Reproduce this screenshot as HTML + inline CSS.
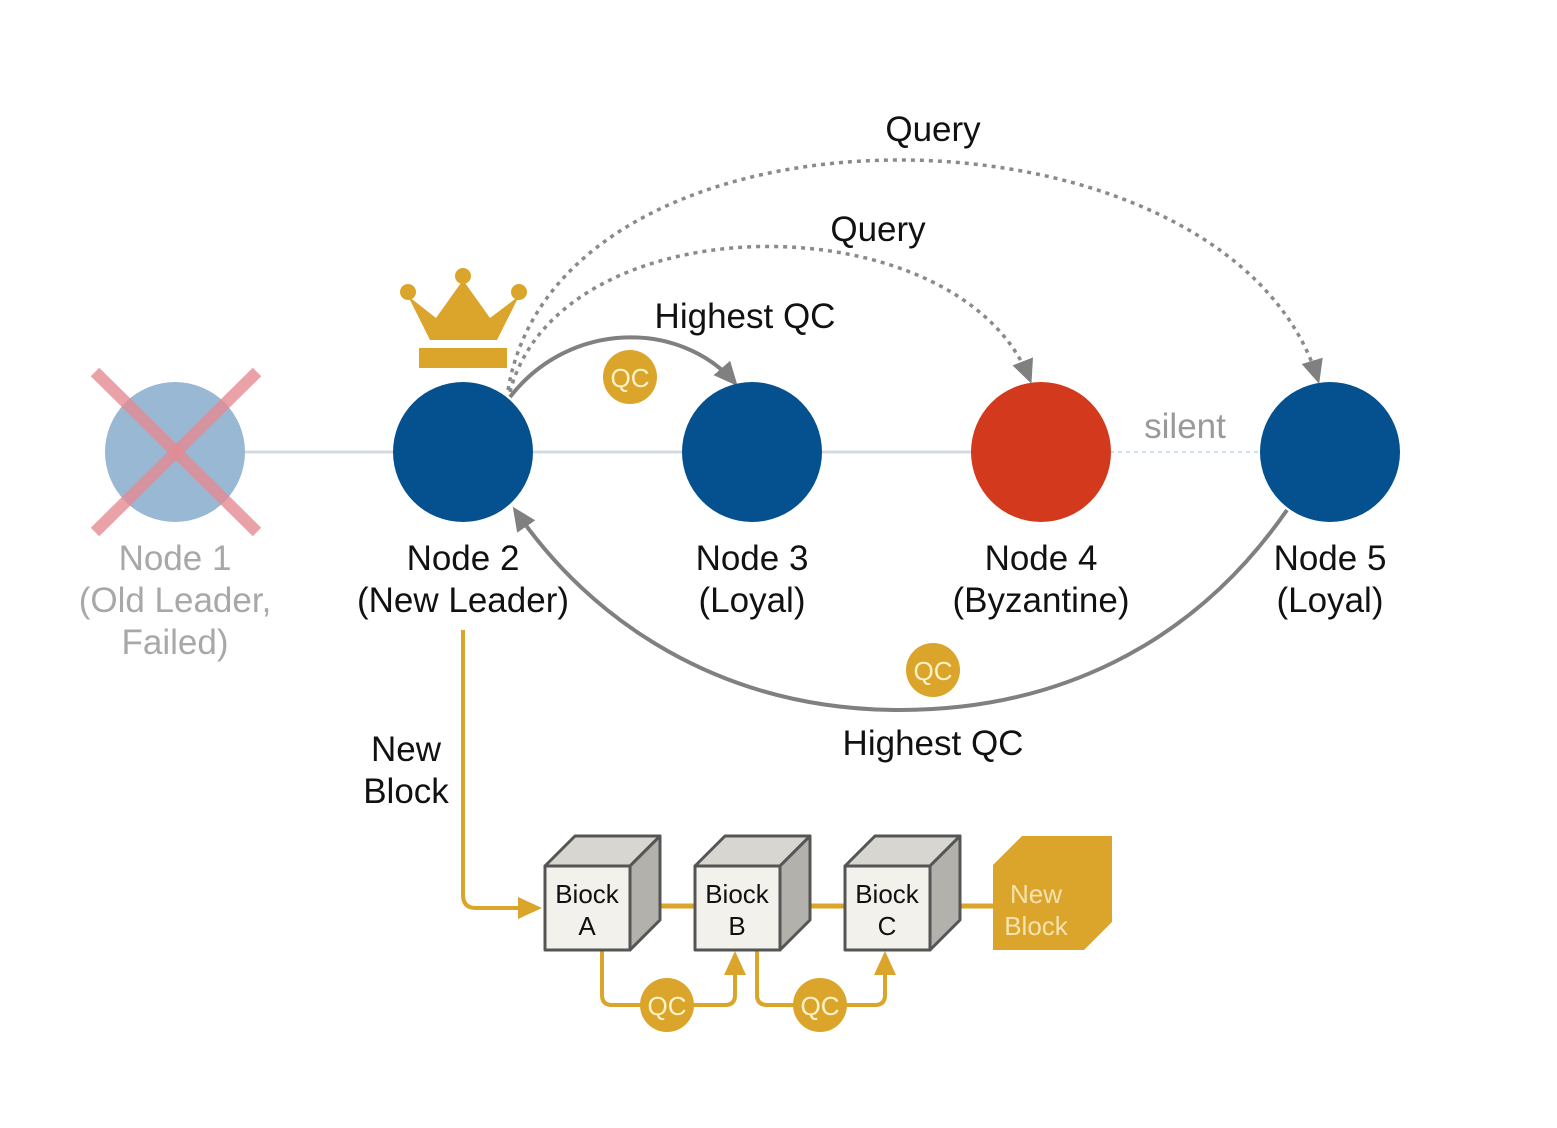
<!DOCTYPE html>
<html><head><meta charset="utf-8"><style>
body{margin:0;background:#fff;}
svg{display:block;font-family:"Liberation Sans",sans-serif;}
</style></head><body>
<svg width="1557" height="1128" viewBox="0 0 1557 1128" xmlns="http://www.w3.org/2000/svg">
<defs>
<marker id="agb" markerWidth="26" markerHeight="26" refX="20" refY="13" orient="auto" markerUnits="userSpaceOnUse" viewBox="0 0 26 26"><path d="M0,2 L24,13 L0,24 z" fill="#808080"/></marker>
<marker id="ao" markerWidth="26" markerHeight="26" refX="20" refY="13" orient="auto" markerUnits="userSpaceOnUse" viewBox="0 0 26 26"><path d="M0,2 L24,13 L0,24 z" fill="#dba42a"/></marker>
</defs>
<line x1="240" y1="452" x2="1110" y2="452" stroke="#d5dbe0" stroke-width="3"/>
<line x1="1110" y1="452" x2="1262" y2="452" stroke="#cfe0ea" stroke-width="2" stroke-dasharray="4,4"/>
<path d="M510,392 C560,200 960,200 1030,380" fill="none" stroke="#8a8a8a" stroke-width="3.5" stroke-dasharray="4,5" marker-end="url(#agb)"/>
<path d="M508,390 C560,80 1230,90 1318,380" fill="none" stroke="#8a8a8a" stroke-width="3.5" stroke-dasharray="4,5" marker-end="url(#agb)"/>
<path d="M510,397 C570,320 680,320 735,383" fill="none" stroke="#808080" stroke-width="4" marker-end="url(#agb)"/>
<path d="M1287,510 C1190,650 1050,710 900,710 C720,710 590,620 515,510" fill="none" stroke="#808080" stroke-width="4" marker-end="url(#agb)"/>
<circle cx="175" cy="452" r="70" fill="#98b8d4"/>
<line x1="95" y1="372" x2="257" y2="532" stroke="#e58a92" stroke-width="12" opacity="0.8"/>
<line x1="257" y1="372" x2="95" y2="532" stroke="#e58a92" stroke-width="12" opacity="0.8"/>
<circle cx="463" cy="452" r="70" fill="#05508f"/>
<circle cx="752" cy="452" r="70" fill="#05508f"/>
<circle cx="1041" cy="452" r="70" fill="#d3391c"/>
<circle cx="1330" cy="452" r="70" fill="#05508f"/>
<path d="M408,296 L430,340 L497,340 L519,296 L490,318 L463,280 L436,318 Z" fill="#dba42a"/>
<circle cx="408" cy="292" r="8" fill="#dba42a"/><circle cx="463" cy="276" r="8" fill="#dba42a"/><circle cx="519" cy="292" r="8" fill="#dba42a"/>
<rect x="419" y="348" width="88" height="20" fill="#dba42a"/>
<circle cx="630" cy="377" r="27" fill="#dba42a"/><text x="630" y="387" font-size="26" fill="#fff3c8" text-anchor="middle">QC</text>
<circle cx="933" cy="670" r="27" fill="#dba42a"/><text x="933" y="680" font-size="26" fill="#fff3c8" text-anchor="middle">QC</text>
<g font-size="35" fill="#111" text-anchor="middle">
<text x="933" y="141">Query</text>
<text x="878" y="241">Query</text>
<text x="745" y="328">Highest QC</text>
<text x="933" y="755">Highest QC</text>
<text x="1185" y="438" fill="#9a9a9a">silent</text>
<text x="175" y="570" fill="#a8a8a8">Node 1</text>
<text x="175" y="612" fill="#a8a8a8">(Old Leader,</text>
<text x="175" y="654" fill="#a8a8a8">Failed)</text>
<text x="463" y="570">Node 2</text><text x="463" y="612">(New Leader)</text>
<text x="752" y="570">Node 3</text><text x="752" y="612">(Loyal)</text>
<text x="1041" y="570">Node 4</text><text x="1041" y="612">(Byzantine)</text>
<text x="1330" y="570">Node 5</text><text x="1330" y="612">(Loyal)</text>
<text x="406" y="761">New</text><text x="406" y="803">Block</text>
</g>
<path d="M463,630 L463,895 Q463,908 476,908 L538,908" fill="none" stroke="#dba42a" stroke-width="4" marker-end="url(#ao)"/>
<line x1="640" y1="906" x2="695" y2="906" stroke="#dba42a" stroke-width="5"/>
<line x1="790" y1="906" x2="845" y2="906" stroke="#dba42a" stroke-width="5"/>
<line x1="940" y1="906" x2="995" y2="906" stroke="#dba42a" stroke-width="5"/>
<path d="M602,950 L602,995 Q602,1005 612,1005 L725,1005 Q735,1005 735,995 L735,955" fill="none" stroke="#dba42a" stroke-width="4" marker-end="url(#ao)"/>
<path d="M757,950 L757,995 Q757,1005 767,1005 L875,1005 Q885,1005 885,995 L885,955" fill="none" stroke="#dba42a" stroke-width="4" marker-end="url(#ao)"/>
<circle cx="667" cy="1005" r="27" fill="#dba42a"/><text x="667" y="1015" font-size="26" fill="#fff3c8" text-anchor="middle">QC</text>
<circle cx="820" cy="1005" r="27" fill="#dba42a"/><text x="820" y="1015" font-size="26" fill="#fff3c8" text-anchor="middle">QC</text>
<g stroke="#555" stroke-width="3" stroke-linejoin="round">
<polygon points="545,866 575,836 660,836 630,866" fill="#d8d6d0"/>
<polygon points="630,866 660,836 660,920 630,950" fill="#b3b1ac"/>
<rect x="545" y="866" width="85" height="84" fill="#f3f1ec"/>
<polygon points="695,866 725,836 810,836 780,866" fill="#d8d6d0"/>
<polygon points="780,866 810,836 810,920 780,950" fill="#b3b1ac"/>
<rect x="695" y="866" width="85" height="84" fill="#f3f1ec"/>
<polygon points="845,866 875,836 960,836 930,866" fill="#d8d6d0"/>
<polygon points="930,866 960,836 960,920 930,950" fill="#b3b1ac"/>
<rect x="845" y="866" width="85" height="84" fill="#f3f1ec"/>
</g>
<polygon points="1022,836 1112,836 1112,922 1084,950 993,950 993,865" fill="#dba42a"/>
<g font-size="26" fill="#111" text-anchor="middle">
<text x="587" y="903">Biock</text><text x="587" y="935">A</text>
<text x="737" y="903">Biock</text><text x="737" y="935">B</text>
<text x="887" y="903">Biock</text><text x="887" y="935">C</text>
</g>
<text x="1036" y="903" font-size="26" fill="#f6e3b0" text-anchor="middle">New</text>
<text x="1036" y="935" font-size="26" fill="#f6e3b0" text-anchor="middle">Block</text>
</svg>
</body></html>
